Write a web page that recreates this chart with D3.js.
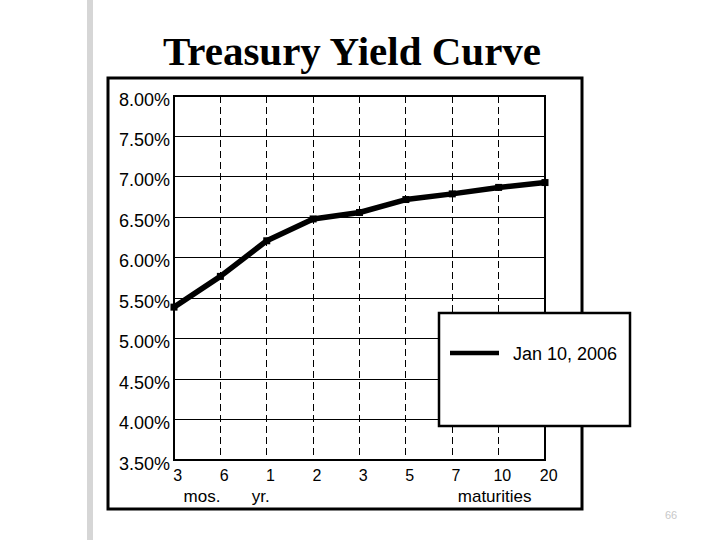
<!DOCTYPE html>
<html>
<head>
<meta charset="utf-8">
<script src="https://cdn.jsdelivr.net/npm/d3@7/dist/d3.min.js"></script>
<style>
  html, body { margin: 0; padding: 0; background: #fff; }
  svg { display: block; }
</style>
</head>
<body>
<svg id="chart" width="720" height="540"></svg>
<script>
// ---- Data ----
const maturities = ["3 mos.", "6 mos.", "1 yr.", "2", "3", "5", "7", "10", "20"];
const tickLabels = ["3", "6", "1", "2", "3", "5", "7", "10", "20"];
const yields = [5.39, 5.77, 6.21, 6.48, 6.56, 6.72, 6.79, 6.87, 6.93];
const yTicks = [3.5, 4.0, 4.5, 5.0, 5.5, 6.0, 6.5, 7.0, 7.5, 8.0];
const seriesName = "Jan 10, 2006";
const title = "Treasury Yield Curve";

// ---- Layout ----
const svg = d3.select("#chart");
const plot = { left: 174, right: 545, top: 96, bottom: 460 };

// left grey bar
svg.append("rect").attr("x", 87).attr("y", 0).attr("width", 6).attr("height", 540).attr("fill", "#d6d6d6");

// title
svg.append("text")
  .attr("x", 352).attr("y", 65)
  .attr("text-anchor", "middle")
  .attr("font-family", "'Liberation Serif', 'Times New Roman', serif")
  .attr("font-weight", "bold")
  .attr("font-size", 41)
  .text(title);

// outer frame
svg.append("rect")
  .attr("x", 108).attr("y", 78).attr("width", 474).attr("height", 431)
  .attr("fill", "none").attr("stroke", "#000").attr("stroke-width", 3);

const x = d3.scalePoint().domain(maturities).range([plot.left, plot.right]).padding(0);
const y = d3.scaleLinear().domain([3.5, 8]).range([plot.bottom, plot.top]);

const font = "'Liberation Sans', Arial, sans-serif";

// horizontal gridlines
svg.append("g").selectAll("line")
  .data(yTicks.filter(v => v > 3.5 && v < 8))
  .join("line")
  .attr("x1", plot.left).attr("x2", plot.right)
  .attr("y1", d => y(d)).attr("y2", d => y(d))
  .attr("stroke", "#000").attr("stroke-width", 1).attr("shape-rendering", "crispEdges");

// vertical dashed gridlines
svg.append("g").selectAll("line")
  .data(maturities.slice(1, -1))
  .join("line")
  .attr("x1", d => x(d)).attr("x2", d => x(d))
  .attr("y1", plot.top).attr("y2", plot.bottom)
  .attr("stroke", "#000").attr("stroke-width", 1)
  .attr("stroke-dasharray", "7,4").attr("shape-rendering", "crispEdges");

// plot border
svg.append("rect")
  .attr("x", plot.left).attr("y", plot.top)
  .attr("width", plot.right - plot.left).attr("height", plot.bottom - plot.top)
  .attr("fill", "none").attr("stroke", "#000").attr("stroke-width", 1.2)
  .attr("shape-rendering", "crispEdges");

// y axis labels
const yAxis = d3.axisLeft(y).tickValues(yTicks).tickSize(0).tickPadding(4)
  .tickFormat(d => d3.format(".2f")(d) + "%");
const ya = svg.append("g").attr("transform", `translate(${plot.left},0)`).call(yAxis);
ya.select(".domain").remove();
ya.selectAll("text").attr("font-family", font).attr("font-size", 18).attr("fill", "#000")
  .attr("dy", "0.5em");

// x axis labels
const xAxis = d3.axisBottom(x).tickSize(0).tickPadding(10)
  .tickFormat((d, i) => tickLabels[i]);
const xa = svg.append("g").attr("transform", `translate(0,${plot.bottom})`).call(xAxis);
xa.select(".domain").remove();
xa.selectAll("text").attr("font-family", font).attr("font-size", 16).attr("fill", "#000")
  .attr("dx", "0.2em");

// second line labels
const sub = [
  { at: "6 mos.", text: "mos.", anchor: "end", dx: 0 },
  { at: "1 yr.", text: "yr.", anchor: "end", dx: 3 },
  { at: "10", text: "maturities", anchor: "middle", dx: -4 }
];
svg.append("g").selectAll("text").data(sub).join("text")
  .attr("x", d => x(d.at) + d.dx).attr("y", 502)
  .attr("text-anchor", d => d.anchor)
  .attr("font-family", font).attr("font-size", 17).attr("fill", "#000")
  .text(d => d.text);

// series line
const line = d3.line().x((d, i) => x(maturities[i])).y(d => y(d));
svg.append("path").datum(yields)
  .attr("d", line).attr("fill", "none").attr("stroke", "#000")
  .attr("stroke-width", 5.5).attr("stroke-linejoin", "round");
svg.append("g").selectAll("rect").data(yields).join("rect")
  .attr("x", (d, i) => x(maturities[i]) - 3.5).attr("y", d => y(d) - 3.5)
  .attr("width", 7).attr("height", 7).attr("fill", "#000");

// legend
const lg = svg.append("g");
lg.append("rect").attr("x", 439).attr("y", 313).attr("width", 191).attr("height", 113)
  .attr("fill", "#fff").attr("stroke", "#000").attr("stroke-width", 2.5);
lg.append("line").attr("x1", 450).attr("x2", 499).attr("y1", 353).attr("y2", 353)
  .attr("stroke", "#000").attr("stroke-width", 4.5);
lg.append("text").attr("x", 513).attr("y", 360)
  .attr("font-family", font).attr("font-size", 18).attr("fill", "#000")
  .text(seriesName);

// page number
svg.append("text").attr("x", 671).attr("y", 519).attr("text-anchor", "middle")
  .attr("font-family", font).attr("font-size", 11).attr("fill", "#c8c8c8").text("66");
</script>
</body>
</html>
